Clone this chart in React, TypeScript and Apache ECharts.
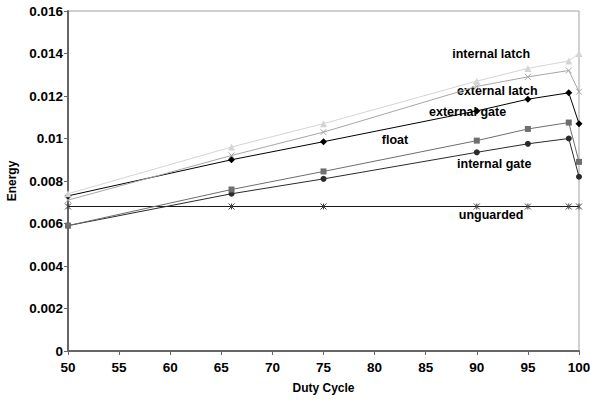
import React, { useEffect, useRef } from "react";
import * as echarts from "echarts";

const dutyCycle = [50, 66, 75, 90, 95, 99, 100];
const internalLatch = [0.0074, 0.0096, 0.0107, 0.0127, 0.0133, 0.01365, 0.014];
const externalLatch = [0.0071, 0.0092, 0.0103, 0.01245, 0.0129, 0.0132, 0.0122];
const externalGate = [0.0073, 0.009, 0.00985, 0.0113, 0.01185, 0.01215, 0.0107];
const floatS = [0.0059, 0.0076, 0.00845, 0.0099, 0.01045, 0.01075, 0.0089];
const internalGate = [0.0059, 0.0074, 0.0081, 0.00935, 0.00975, 0.01, 0.0082];
const unguarded = [0.0068, 0.0068, 0.0068, 0.0068, 0.0068, 0.0068, 0.0068];

const seriesNames = ["internal latch", "external latch", "external gate", "float", "internal gate", "unguarded"];
// label anchor positions in data units [duty cycle, energy]
const labelPos: [number, number][] = [
  [91.4, 0.01398],
  [92.0, 0.01224],
  [89.1, 0.01126],
  [82.0, 0.00992],
  [91.7, 0.00880],
  [91.4, 0.00640],
];

const FONT = "'Liberation Sans', Arial, sans-serif";

export default function App() {
  const ref = useRef<HTMLDivElement>(null);
  useEffect(() => {
    if (!ref.current) return;
    const chart = echarts.init(ref.current, undefined, { renderer: "svg" });
    const crossPath = "path://M0,0L10,10M10,0L0,10";
    const starPath = "path://M0,0L10,10M10,0L0,10M5,0L5,10";
    const defs = [
      { data: internalLatch, color: "#d4d4d4", symbol: "triangle", size: 7, mcolor: "#d4d4d4" },
      { data: externalLatch, color: "#a6a6a6", symbol: crossPath, size: 6, mcolor: "#a6a6a6" },
      { data: externalGate, color: "#000000", symbol: "diamond", size: 7, mcolor: "#000000" },
      { data: floatS, color: "#6e6e6e", symbol: "rect", size: 6, mcolor: "#6e6e6e" },
      { data: internalGate, color: "#2a2a2a", symbol: "circle", size: 6, mcolor: "#2a2a2a" },
      { data: unguarded, color: "#1a1a1a", symbol: starPath, size: 6, mcolor: "#444444" },
    ];
    const series = defs.map((d, i) => ({
      name: seriesNames[i],
      type: "line",
      data: d.data.map((v, j) => [dutyCycle[j], v]),
      symbol: d.symbol,
      symbolSize: d.size,
      showSymbol: true,
      lineStyle: { color: d.color, width: 1 },
      itemStyle: { color: d.mcolor, borderColor: d.mcolor, borderWidth: d.symbol.startsWith("path") ? 1 : 0 },
      z: 10 - i,
      markPoint: {
        symbol: "circle",
        symbolSize: 0,
        silent: true,
        data: [
          {
            coord: labelPos[i],
            label: {
              show: true,
              formatter: seriesNames[i],
              position: "inside",
              color: "#000",
              fontFamily: FONT,
              fontWeight: "bold",
              fontSize: 12.5,
            },
          },
        ],
      },
    }));
    chart.setOption({
      animation: false,
      backgroundColor: "#ffffff",
      grid: {
        left: 68,
        right: 11,
        top: 11,
        bottom: 49,
        show: true,
        borderColor: "#a0a0a0",
        borderWidth: 1,
        containLabel: false,
        outerBoundsMode: "none",
      },
      xAxis: {
        type: "value",
        min: 50,
        max: 100,
        interval: 5,
        name: "Duty Cycle",
        nameLocation: "middle",
        nameGap: 31,
        nameTextStyle: { fontFamily: FONT, fontWeight: "bold", fontSize: 12, color: "#000" },
        axisLine: { show: true, lineStyle: { color: "#666", width: 2 } },
        axisTick: { show: true, length: 4, lineStyle: { color: "#666" } },
        axisLabel: { fontFamily: FONT, fontWeight: "bold", fontSize: 13.5, color: "#000", margin: 9 },
        splitLine: { show: false },
      },
      yAxis: {
        type: "value",
        min: 0,
        max: 0.016,
        interval: 0.002,
        name: "Energy",
        nameLocation: "middle",
        nameGap: 48,
        nameRotate: 90,
        nameTextStyle: { fontFamily: FONT, fontWeight: "bold", fontSize: 12, color: "#000" },
        axisLine: { show: true, lineStyle: { color: "#666", width: 2 } },
        axisTick: { show: true, length: 4, lineStyle: { color: "#666" } },
        axisLabel: { fontFamily: FONT, fontWeight: "bold", fontSize: 13.5, color: "#000", margin: 5 },
        splitLine: { show: false },
      },
      series,
    });
    return () => chart.dispose();
  }, []);
  return (
    <div
      ref={ref}
      style={{ position: "absolute", left: 0, top: 0, width: 590, height: 400 }}
    />
  );
}
